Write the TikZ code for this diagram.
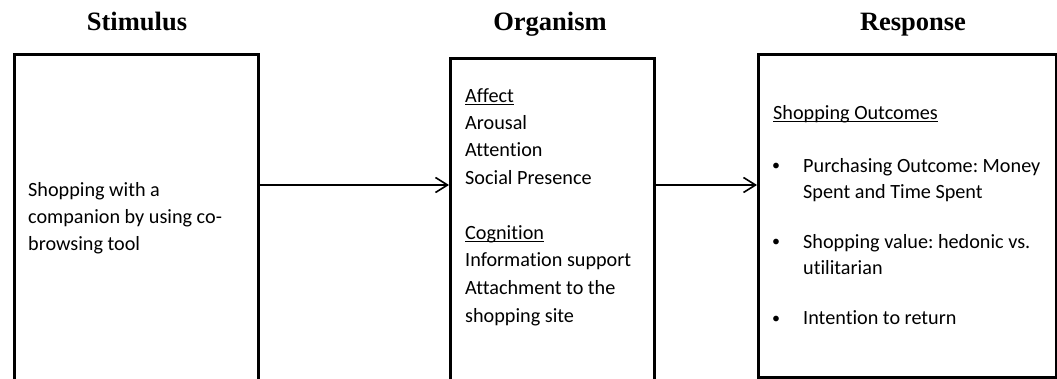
\documentclass[tikz,border=0pt]{standalone}
\usepackage{fontspec}
\setmainfont{Carlito}[Ligatures=NoCommon]
\newfontfamily\titlefont{Liberation Serif}
\usetikzlibrary{arrows.meta}
\frenchspacing
\newcommand{\myul}[1]{\setbox0\hbox{#1}\rlap{\rule[-3pt]{\wd0}{1.3pt}}\box0}
\begin{document}
\begin{tikzpicture}[x=1pt,y=-1pt,
  box/.style={draw,line width=3.4pt,anchor=north west,inner sep=0pt},
  conn/.style={line width=1.6pt,-{Straight Barb[length=12pt,width=15pt,line width=1.6pt]}},
  title/.style={font=\titlefont\bfseries\fontsize{26.5}{30}\selectfont,anchor=base,inner sep=0pt},
  body/.style={font=\fontsize{20.2}{27.5}\selectfont,anchor=base west,inner sep=0pt,align=left},
  bul/.style={font=\fontsize{16}{26}\selectfont,anchor=base,inner sep=0pt},
]
\useasboundingbox (0,0) rectangle (1057,379);
\clip (0,0) rectangle (1057,379);
% titles
\node[title] (tstim) at (137,31) {Stimulus};
\node[title] (torg) at (550,31) {Organism};
\node[title] (tresp) at (913,31) {Response};
% boxes
\node[box,minimum width=244pt,minimum height=327pt] (stim) at (13,53) {};
\node[box,minimum width=204pt,minimum height=323pt] (org) at (449,57) {};
\node[box,minimum width=298pt,minimum height=323pt] (resp) at (757,53) {};
% connectors
\coordinate (ay) at (0,185);
\draw[conn] (stim.east |- ay) -- (org.west |- ay);
\draw[conn] (org.east |- ay) -- (resp.west |- ay);
% texts (anchor = baseline of last line)
\node[body,font=\fontsize{20.2}{27}\selectfont] (stimtext) at (28,250.5)
  {Shopping with a\\companion by using co-\\browsing tool};
\node[body] (orgtext) at (465,322)
  {\myul{Affect}\\Arousal\\Attention\\Social Presence\\[27.5pt]\myul{Cognition}\\Information support\\Attachment to the\\shopping site};
\node[body] (resphead) at (773,119.5) {\myul{Shopping Outcomes}};
\node[bul] (b1) at (776,171) {•};
\node[body,font=\fontsize{20.2}{26}\selectfont] (i1) at (803,198.5) {Purchasing Outcome: Money\\Spent and Time Spent};
\node[bul] (b2) at (776,247) {•};
\node[body,font=\fontsize{20.2}{26}\selectfont] (i2) at (803,274.5) {Shopping value: hedonic vs.\\utilitarian};
\node[bul] (b3) at (776,323) {•};
\node[body,font=\fontsize{20.2}{26}\selectfont] (i3) at (803,324.5) {Intention to return};
\end{tikzpicture}
\end{document}
